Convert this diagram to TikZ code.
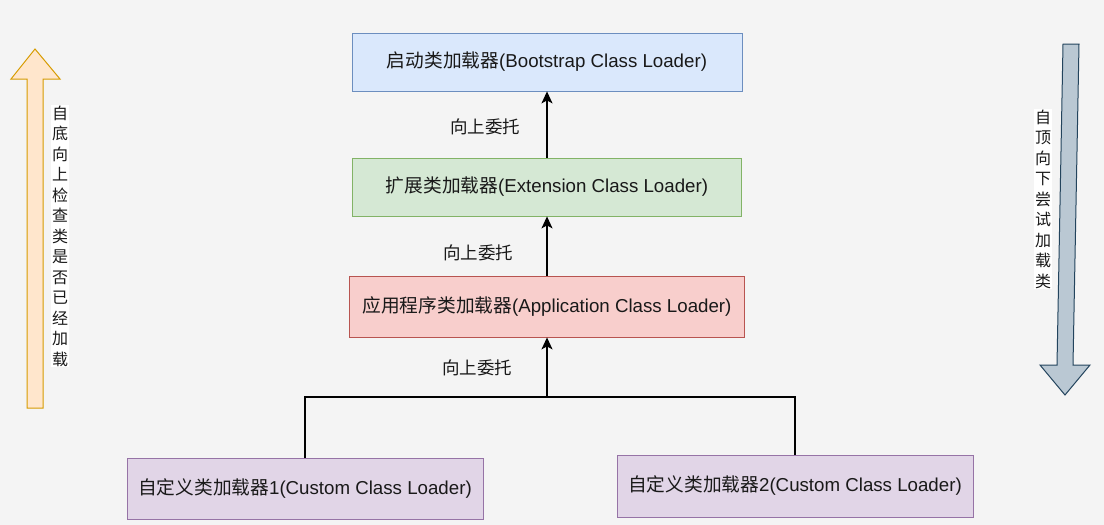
\documentclass[tikz,border=0pt]{standalone}
\usepackage{fontspec}
\setmainfont{Liberation Sans}
\newfontfamily\cjk{Noto Sans CJK SC}
\usetikzlibrary{arrows.meta,calc,positioning}
\definecolor{bgcol}{HTML}{F4F4F4}
\definecolor{bluefill}{HTML}{DAE8FC}\definecolor{blueline}{HTML}{6C8EBF}
\definecolor{greenfill}{HTML}{D5E8D4}\definecolor{greenline}{HTML}{82B366}
\definecolor{redfill}{HTML}{F8CECC}\definecolor{redline}{HTML}{B85450}
\definecolor{purplefill}{HTML}{E1D5E7}\definecolor{purpleline}{HTML}{9673A6}
\definecolor{orangefill}{HTML}{FFE6CC}\definecolor{orangeline}{HTML}{D79B00}
\definecolor{slatefill}{HTML}{BAC8D3}\definecolor{slateline}{HTML}{23445D}
\tikzset{
  loader/.style={draw, line width=0.8pt, inner sep=0pt, text=black!90, font=\fontsize{18.7}{21}\selectfont},
  lab/.style={font=\cjk\fontsize{17.5}{21}\selectfont, text=black!90, inner sep=1pt},
  link/.style={line width=1.3pt, black},
  tip/.style={-{Stealth[length=12pt,width=11pt,inset=3pt]}},
  sidetext/.style={fill=white, inner sep=0.5pt, align=center, text width=17pt, text=black!90}
}

\begin{document}
\begin{tikzpicture}[x=1pt,y=-1pt]
\fill[bgcol] (0,0) rectangle (1104,525);
\useasboundingbox (0,0) rectangle (1104,525);
% loaders
\node[loader,fill=bluefill,draw=blueline,minimum width=390pt,minimum height=58pt] (boot) at (547,62) {{\cjk 启动类加载器}(Bootstrap Class Loader)};
\node[loader,fill=greenfill,draw=greenline,minimum width=389pt,minimum height=58pt] (ext) at (547,187) {{\cjk 扩展类加载器}(Extension Class Loader)};
\node[loader,fill=redfill,draw=redline,minimum width=395pt,minimum height=61pt] (app) at (547,306.5) {{\cjk 应用程序类加载器}(Application Class Loader)};
\node[loader,fill=purplefill,draw=purpleline,minimum width=356pt,minimum height=61pt] (cust1) at (305,488.5) {{\cjk 自定义类加载器}1(Custom Class Loader)};
\node[loader,fill=purplefill,draw=purpleline,minimum width=356pt,minimum height=62pt] (cust2) at (795,486) {{\cjk 自定义类加载器}2(Custom Class Loader)};
% delegation
\node[lab] (up1) at (485,127) {向上委托};
\node[lab] (up2) at (478,253) {向上委托};
\node[lab] (up3) at (477,368) {向上委托};
\coordinate (mid) at (547,397);
\draw[link,tip] (ext.north) -- (boot.south);
\draw[link,tip] (app.north) -- (ext.south);
\draw[link,tip] (mid) -- (app.south);
\draw[link] (cust1.north) |- (mid) -| (cust2.north);
% side arrows
\draw[orangeline,fill=orangefill,line width=1pt] (27,408) -- (27,79) -- (11,79) -- (35,49) -- (60,79) -- (43,79) -- (43,408) -- cycle;
\node[sidetext,font=\cjk\fontsize{16}{20.5}\selectfont] (bottomup) at (60,236) {自\\底\\向\\上\\检\\查\\类\\是\\否\\已\\经\\加\\载};
\draw[slateline,fill=slatefill,line width=1pt] (1063,44) -- (1079,44) -- (1073,365) -- (1090,365) -- (1065,395) -- (1040,365) -- (1057,365) -- cycle;
\node[sidetext,font=\cjk\fontsize{16}{20.5}\selectfont] (topdown) at (1043,199) {自\\顶\\向\\下\\尝\\试\\加\\载\\类};
\end{tikzpicture}
\end{document}
